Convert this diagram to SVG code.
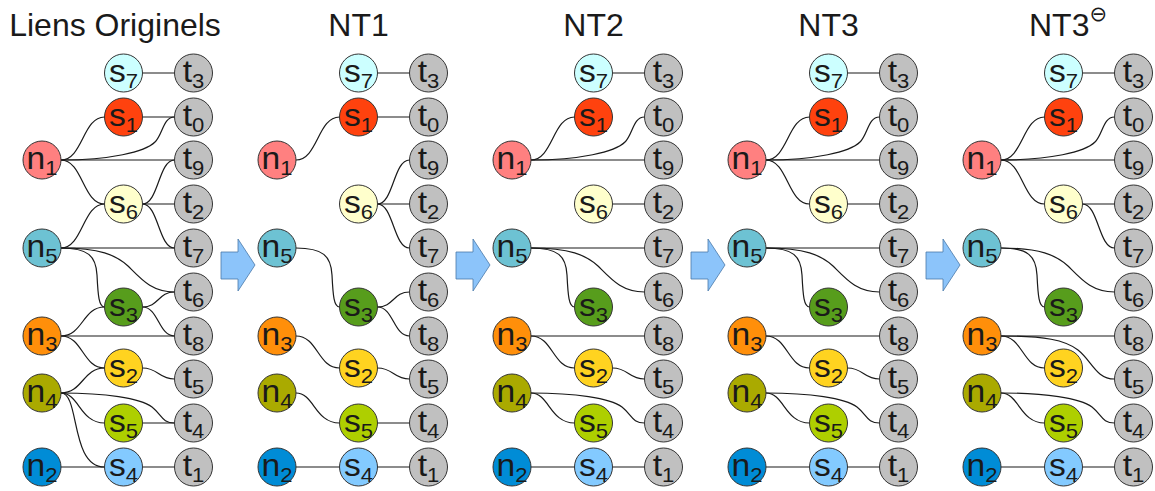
<svg xmlns="http://www.w3.org/2000/svg" width="1155" height="491" viewBox="0 0 1155 491">
<style>
.links path{fill:none;stroke:#1a1a1a;stroke-width:1.2}
.nd circle{stroke:#333;stroke-width:1}
.lbl{font-family:"Liberation Sans",Arial,sans-serif;font-size:32px;fill:#1a1a1a;text-anchor:middle}
.sub{font-size:21px}
.title{font-family:"Liberation Sans",Arial,sans-serif;font-size:32px;fill:#1a1a1a}
.arrow{fill:#8cc4fa;stroke:#4a78a8;stroke-width:0.8}
.f-n1{fill:#ff8080}.f-n5{fill:#6dc2d3}.f-n3{fill:#ff8f0a}.f-n4{fill:#aaaa00}.f-n2{fill:#008cd6}
.f-s7{fill:#ccffff}.f-s1{fill:#ff420e}.f-s6{fill:#ffffcc}.f-s3{fill:#579d1c}.f-s2{fill:#ffd320}.f-s5{fill:#aecf00}.f-s4{fill:#83caff}
.f-t{fill:#c0c0c0}
</style>
<defs>
<path id="arr" d="M221,252H238V239L255,265L238,291V279H221Z"/>
</defs>
<g id="titles">
<text class="title" x="115" y="36" text-anchor="middle">Liens Originels</text>
<text class="title" x="358.5" y="36" text-anchor="middle">NT1</text>
<text class="title" x="593.5" y="36" text-anchor="middle">NT2</text>
<text class="title" x="828.5" y="36" text-anchor="middle">NT3</text>
<text class="title" x="1029" y="36">NT3<tspan font-family="DejaVu Sans,sans-serif" font-size="21" dy="-15">⊖</tspan></text>
</g>
<g id="arrows">
<use href="#arr" class="arrow"/>
<use href="#arr" class="arrow" transform="translate(235,0)"/>
<use href="#arr" class="arrow" transform="translate(470,0)"/>
<use href="#arr" class="arrow" transform="translate(705,0)"/>
</g>

<g id="panel-orig">
<g id="orig-links" class="links">
<path d="M142.5,73H174.5"/>
<path d="M142.5,117H174.5"/>
<path d="M61,160C82.75,160 82.75,117 104.5,117"/>
<path d="M61,160C110,160 145,152 155,142C163,134 163,117 174.5,117"/>
<path d="M61,160H174.5"/>
<path d="M61,160C82.75,160 82.75,204 104.5,204"/>
<path d="M142.5,204C158.5,204 158.5,160 174.5,160"/>
<path d="M142.5,204H174.5"/>
<path d="M142.5,204C158.5,204 158.5,248 174.5,248"/>
<path d="M61,248C82.75,248 82.75,204 104.5,204"/>
<path d="M61,248H174.5"/>
<path d="M61,248C88,248 96,256 97,275C98,296 99,307 104.5,307"/>
<path d="M61,248C100,248 116,255 128,266C142,280 152,292 174.5,292"/>
<path d="M142.5,307C158.5,307 158.5,292 174.5,292"/>
<path d="M142.5,307C158.5,307 158.5,336 174.5,336"/>
<path d="M61,336C82.75,336 82.75,307 104.5,307"/>
<path d="M61,336H174.5"/>
<path d="M61,336C82.75,336 82.75,368 104.5,368"/>
<path d="M61,393C82.75,393 82.75,368 104.5,368"/>
<path d="M142.5,368C158.5,368 158.5,379 174.5,379"/>
<path d="M61,393C105,393 140,398 152,407C162,415 162,423 174.5,423"/>
<path d="M61,393C79,393 80,423 104.5,423"/>
<path d="M61,393C80,393 70,467 104.5,467"/>
<path d="M142.5,423H174.5"/>
<path d="M61,467H104.5"/>
<path d="M142.5,467H174.5"/>
</g>
<g id="orig-n1" class="nd" transform="translate(42,160)"><circle r="19" class="f-n1"/><text class="lbl" transform="scale(1.05,1)" y="9">n<tspan class="sub" dy="6">1</tspan></text></g>
<g id="orig-n5" class="nd" transform="translate(42,248)"><circle r="19" class="f-n5"/><text class="lbl" transform="scale(1.05,1)" y="9">n<tspan class="sub" dy="6">5</tspan></text></g>
<g id="orig-n3" class="nd" transform="translate(42,336)"><circle r="19" class="f-n3"/><text class="lbl" transform="scale(1.05,1)" y="9">n<tspan class="sub" dy="6">3</tspan></text></g>
<g id="orig-n4" class="nd" transform="translate(42,393)"><circle r="19" class="f-n4"/><text class="lbl" transform="scale(1.05,1)" y="9">n<tspan class="sub" dy="6">4</tspan></text></g>
<g id="orig-n2" class="nd" transform="translate(42,467)"><circle r="19" class="f-n2"/><text class="lbl" transform="scale(1.05,1)" y="9">n<tspan class="sub" dy="6">2</tspan></text></g>
<g id="orig-s7" class="nd" transform="translate(123.5,73)"><circle r="19" class="f-s7"/><text class="lbl" transform="scale(1.05,1)" y="9">s<tspan class="sub" dy="6">7</tspan></text></g>
<g id="orig-s1" class="nd" transform="translate(123.5,117)"><circle r="19" class="f-s1"/><text class="lbl" transform="scale(1.05,1)" y="9">s<tspan class="sub" dy="6">1</tspan></text></g>
<g id="orig-s6" class="nd" transform="translate(123.5,204)"><circle r="19" class="f-s6"/><text class="lbl" transform="scale(1.05,1)" y="9">s<tspan class="sub" dy="6">6</tspan></text></g>
<g id="orig-s3" class="nd" transform="translate(123.5,307)"><circle r="19" class="f-s3"/><text class="lbl" transform="scale(1.05,1)" y="9">s<tspan class="sub" dy="6">3</tspan></text></g>
<g id="orig-s2" class="nd" transform="translate(123.5,368)"><circle r="19" class="f-s2"/><text class="lbl" transform="scale(1.05,1)" y="9">s<tspan class="sub" dy="6">2</tspan></text></g>
<g id="orig-s5" class="nd" transform="translate(123.5,423)"><circle r="19" class="f-s5"/><text class="lbl" transform="scale(1.05,1)" y="9">s<tspan class="sub" dy="6">5</tspan></text></g>
<g id="orig-s4" class="nd" transform="translate(123.5,467)"><circle r="19" class="f-s4"/><text class="lbl" transform="scale(1.05,1)" y="9">s<tspan class="sub" dy="6">4</tspan></text></g>
<g id="orig-t3" class="nd" transform="translate(193.5,73)"><circle r="19" class="f-t"/><text class="lbl" transform="scale(1.05,1)" y="9">t<tspan class="sub" dy="6">3</tspan></text></g>
<g id="orig-t0" class="nd" transform="translate(193.5,117)"><circle r="19" class="f-t"/><text class="lbl" transform="scale(1.05,1)" y="9">t<tspan class="sub" dy="6">0</tspan></text></g>
<g id="orig-t9" class="nd" transform="translate(193.5,160)"><circle r="19" class="f-t"/><text class="lbl" transform="scale(1.05,1)" y="9">t<tspan class="sub" dy="6">9</tspan></text></g>
<g id="orig-t2" class="nd" transform="translate(193.5,204)"><circle r="19" class="f-t"/><text class="lbl" transform="scale(1.05,1)" y="9">t<tspan class="sub" dy="6">2</tspan></text></g>
<g id="orig-t7" class="nd" transform="translate(193.5,248)"><circle r="19" class="f-t"/><text class="lbl" transform="scale(1.05,1)" y="9">t<tspan class="sub" dy="6">7</tspan></text></g>
<g id="orig-t6" class="nd" transform="translate(193.5,292)"><circle r="19" class="f-t"/><text class="lbl" transform="scale(1.05,1)" y="9">t<tspan class="sub" dy="6">6</tspan></text></g>
<g id="orig-t8" class="nd" transform="translate(193.5,336)"><circle r="19" class="f-t"/><text class="lbl" transform="scale(1.05,1)" y="9">t<tspan class="sub" dy="6">8</tspan></text></g>
<g id="orig-t5" class="nd" transform="translate(193.5,379)"><circle r="19" class="f-t"/><text class="lbl" transform="scale(1.05,1)" y="9">t<tspan class="sub" dy="6">5</tspan></text></g>
<g id="orig-t4" class="nd" transform="translate(193.5,423)"><circle r="19" class="f-t"/><text class="lbl" transform="scale(1.05,1)" y="9">t<tspan class="sub" dy="6">4</tspan></text></g>
<g id="orig-t1" class="nd" transform="translate(193.5,467)"><circle r="19" class="f-t"/><text class="lbl" transform="scale(1.05,1)" y="9">t<tspan class="sub" dy="6">1</tspan></text></g>
</g>

<g id="panel-nt1" transform="translate(235,0)">
<g id="nt1-links" class="links">
<path d="M142.5,73H174.5"/>
<path d="M142.5,117H174.5"/>
<path d="M61,160C82.75,160 82.75,117 104.5,117"/>
<path d="M142.5,204C158.5,204 158.5,160 174.5,160"/>
<path d="M142.5,204H174.5"/>
<path d="M142.5,204C158.5,204 158.5,248 174.5,248"/>
<path d="M61,248C88,248 96,256 97,275C98,296 99,307 104.5,307"/>
<path d="M142.5,307C158.5,307 158.5,292 174.5,292"/>
<path d="M142.5,307C158.5,307 158.5,336 174.5,336"/>
<path d="M61,336C82.75,336 82.75,368 104.5,368"/>
<path d="M142.5,368C158.5,368 158.5,379 174.5,379"/>
<path d="M61,393C79,393 80,423 104.5,423"/>
<path d="M142.5,423H174.5"/>
<path d="M61,467H104.5"/>
<path d="M142.5,467H174.5"/>
</g>
<g id="nt1-n1" class="nd" transform="translate(42,160)"><circle r="19" class="f-n1"/><text class="lbl" transform="scale(1.05,1)" y="9">n<tspan class="sub" dy="6">1</tspan></text></g>
<g id="nt1-n5" class="nd" transform="translate(42,248)"><circle r="19" class="f-n5"/><text class="lbl" transform="scale(1.05,1)" y="9">n<tspan class="sub" dy="6">5</tspan></text></g>
<g id="nt1-n3" class="nd" transform="translate(42,336)"><circle r="19" class="f-n3"/><text class="lbl" transform="scale(1.05,1)" y="9">n<tspan class="sub" dy="6">3</tspan></text></g>
<g id="nt1-n4" class="nd" transform="translate(42,393)"><circle r="19" class="f-n4"/><text class="lbl" transform="scale(1.05,1)" y="9">n<tspan class="sub" dy="6">4</tspan></text></g>
<g id="nt1-n2" class="nd" transform="translate(42,467)"><circle r="19" class="f-n2"/><text class="lbl" transform="scale(1.05,1)" y="9">n<tspan class="sub" dy="6">2</tspan></text></g>
<g id="nt1-s7" class="nd" transform="translate(123.5,73)"><circle r="19" class="f-s7"/><text class="lbl" transform="scale(1.05,1)" y="9">s<tspan class="sub" dy="6">7</tspan></text></g>
<g id="nt1-s1" class="nd" transform="translate(123.5,117)"><circle r="19" class="f-s1"/><text class="lbl" transform="scale(1.05,1)" y="9">s<tspan class="sub" dy="6">1</tspan></text></g>
<g id="nt1-s6" class="nd" transform="translate(123.5,204)"><circle r="19" class="f-s6"/><text class="lbl" transform="scale(1.05,1)" y="9">s<tspan class="sub" dy="6">6</tspan></text></g>
<g id="nt1-s3" class="nd" transform="translate(123.5,307)"><circle r="19" class="f-s3"/><text class="lbl" transform="scale(1.05,1)" y="9">s<tspan class="sub" dy="6">3</tspan></text></g>
<g id="nt1-s2" class="nd" transform="translate(123.5,368)"><circle r="19" class="f-s2"/><text class="lbl" transform="scale(1.05,1)" y="9">s<tspan class="sub" dy="6">2</tspan></text></g>
<g id="nt1-s5" class="nd" transform="translate(123.5,423)"><circle r="19" class="f-s5"/><text class="lbl" transform="scale(1.05,1)" y="9">s<tspan class="sub" dy="6">5</tspan></text></g>
<g id="nt1-s4" class="nd" transform="translate(123.5,467)"><circle r="19" class="f-s4"/><text class="lbl" transform="scale(1.05,1)" y="9">s<tspan class="sub" dy="6">4</tspan></text></g>
<g id="nt1-t3" class="nd" transform="translate(193.5,73)"><circle r="19" class="f-t"/><text class="lbl" transform="scale(1.05,1)" y="9">t<tspan class="sub" dy="6">3</tspan></text></g>
<g id="nt1-t0" class="nd" transform="translate(193.5,117)"><circle r="19" class="f-t"/><text class="lbl" transform="scale(1.05,1)" y="9">t<tspan class="sub" dy="6">0</tspan></text></g>
<g id="nt1-t9" class="nd" transform="translate(193.5,160)"><circle r="19" class="f-t"/><text class="lbl" transform="scale(1.05,1)" y="9">t<tspan class="sub" dy="6">9</tspan></text></g>
<g id="nt1-t2" class="nd" transform="translate(193.5,204)"><circle r="19" class="f-t"/><text class="lbl" transform="scale(1.05,1)" y="9">t<tspan class="sub" dy="6">2</tspan></text></g>
<g id="nt1-t7" class="nd" transform="translate(193.5,248)"><circle r="19" class="f-t"/><text class="lbl" transform="scale(1.05,1)" y="9">t<tspan class="sub" dy="6">7</tspan></text></g>
<g id="nt1-t6" class="nd" transform="translate(193.5,292)"><circle r="19" class="f-t"/><text class="lbl" transform="scale(1.05,1)" y="9">t<tspan class="sub" dy="6">6</tspan></text></g>
<g id="nt1-t8" class="nd" transform="translate(193.5,336)"><circle r="19" class="f-t"/><text class="lbl" transform="scale(1.05,1)" y="9">t<tspan class="sub" dy="6">8</tspan></text></g>
<g id="nt1-t5" class="nd" transform="translate(193.5,379)"><circle r="19" class="f-t"/><text class="lbl" transform="scale(1.05,1)" y="9">t<tspan class="sub" dy="6">5</tspan></text></g>
<g id="nt1-t4" class="nd" transform="translate(193.5,423)"><circle r="19" class="f-t"/><text class="lbl" transform="scale(1.05,1)" y="9">t<tspan class="sub" dy="6">4</tspan></text></g>
<g id="nt1-t1" class="nd" transform="translate(193.5,467)"><circle r="19" class="f-t"/><text class="lbl" transform="scale(1.05,1)" y="9">t<tspan class="sub" dy="6">1</tspan></text></g>
</g>

<g id="panel-nt2" transform="translate(470,0)">
<g id="nt2-links" class="links">
<path d="M142.5,73H174.5"/>
<path d="M61,160C82.75,160 82.75,117 104.5,117"/>
<path d="M61,160C110,160 145,152 155,142C163,134 163,117 174.5,117"/>
<path d="M61,160H174.5"/>
<path d="M142.5,204H174.5"/>
<path d="M61,248H174.5"/>
<path d="M61,248C88,248 96,256 97,275C98,296 99,307 104.5,307"/>
<path d="M61,248C100,248 116,255 128,266C142,280 152,292 174.5,292"/>
<path d="M61,336H174.5"/>
<path d="M61,336C82.75,336 82.75,368 104.5,368"/>
<path d="M142.5,368C158.5,368 158.5,379 174.5,379"/>
<path d="M61,393C105,393 140,398 152,407C162,415 162,423 174.5,423"/>
<path d="M61,393C79,393 80,423 104.5,423"/>
<path d="M61,467H104.5"/>
<path d="M142.5,467H174.5"/>
</g>
<g id="nt2-n1" class="nd" transform="translate(42,160)"><circle r="19" class="f-n1"/><text class="lbl" transform="scale(1.05,1)" y="9">n<tspan class="sub" dy="6">1</tspan></text></g>
<g id="nt2-n5" class="nd" transform="translate(42,248)"><circle r="19" class="f-n5"/><text class="lbl" transform="scale(1.05,1)" y="9">n<tspan class="sub" dy="6">5</tspan></text></g>
<g id="nt2-n3" class="nd" transform="translate(42,336)"><circle r="19" class="f-n3"/><text class="lbl" transform="scale(1.05,1)" y="9">n<tspan class="sub" dy="6">3</tspan></text></g>
<g id="nt2-n4" class="nd" transform="translate(42,393)"><circle r="19" class="f-n4"/><text class="lbl" transform="scale(1.05,1)" y="9">n<tspan class="sub" dy="6">4</tspan></text></g>
<g id="nt2-n2" class="nd" transform="translate(42,467)"><circle r="19" class="f-n2"/><text class="lbl" transform="scale(1.05,1)" y="9">n<tspan class="sub" dy="6">2</tspan></text></g>
<g id="nt2-s7" class="nd" transform="translate(123.5,73)"><circle r="19" class="f-s7"/><text class="lbl" transform="scale(1.05,1)" y="9">s<tspan class="sub" dy="6">7</tspan></text></g>
<g id="nt2-s1" class="nd" transform="translate(123.5,117)"><circle r="19" class="f-s1"/><text class="lbl" transform="scale(1.05,1)" y="9">s<tspan class="sub" dy="6">1</tspan></text></g>
<g id="nt2-s6" class="nd" transform="translate(123.5,204)"><circle r="19" class="f-s6"/><text class="lbl" transform="scale(1.05,1)" y="9">s<tspan class="sub" dy="6">6</tspan></text></g>
<g id="nt2-s3" class="nd" transform="translate(123.5,307)"><circle r="19" class="f-s3"/><text class="lbl" transform="scale(1.05,1)" y="9">s<tspan class="sub" dy="6">3</tspan></text></g>
<g id="nt2-s2" class="nd" transform="translate(123.5,368)"><circle r="19" class="f-s2"/><text class="lbl" transform="scale(1.05,1)" y="9">s<tspan class="sub" dy="6">2</tspan></text></g>
<g id="nt2-s5" class="nd" transform="translate(123.5,423)"><circle r="19" class="f-s5"/><text class="lbl" transform="scale(1.05,1)" y="9">s<tspan class="sub" dy="6">5</tspan></text></g>
<g id="nt2-s4" class="nd" transform="translate(123.5,467)"><circle r="19" class="f-s4"/><text class="lbl" transform="scale(1.05,1)" y="9">s<tspan class="sub" dy="6">4</tspan></text></g>
<g id="nt2-t3" class="nd" transform="translate(193.5,73)"><circle r="19" class="f-t"/><text class="lbl" transform="scale(1.05,1)" y="9">t<tspan class="sub" dy="6">3</tspan></text></g>
<g id="nt2-t0" class="nd" transform="translate(193.5,117)"><circle r="19" class="f-t"/><text class="lbl" transform="scale(1.05,1)" y="9">t<tspan class="sub" dy="6">0</tspan></text></g>
<g id="nt2-t9" class="nd" transform="translate(193.5,160)"><circle r="19" class="f-t"/><text class="lbl" transform="scale(1.05,1)" y="9">t<tspan class="sub" dy="6">9</tspan></text></g>
<g id="nt2-t2" class="nd" transform="translate(193.5,204)"><circle r="19" class="f-t"/><text class="lbl" transform="scale(1.05,1)" y="9">t<tspan class="sub" dy="6">2</tspan></text></g>
<g id="nt2-t7" class="nd" transform="translate(193.5,248)"><circle r="19" class="f-t"/><text class="lbl" transform="scale(1.05,1)" y="9">t<tspan class="sub" dy="6">7</tspan></text></g>
<g id="nt2-t6" class="nd" transform="translate(193.5,292)"><circle r="19" class="f-t"/><text class="lbl" transform="scale(1.05,1)" y="9">t<tspan class="sub" dy="6">6</tspan></text></g>
<g id="nt2-t8" class="nd" transform="translate(193.5,336)"><circle r="19" class="f-t"/><text class="lbl" transform="scale(1.05,1)" y="9">t<tspan class="sub" dy="6">8</tspan></text></g>
<g id="nt2-t5" class="nd" transform="translate(193.5,379)"><circle r="19" class="f-t"/><text class="lbl" transform="scale(1.05,1)" y="9">t<tspan class="sub" dy="6">5</tspan></text></g>
<g id="nt2-t4" class="nd" transform="translate(193.5,423)"><circle r="19" class="f-t"/><text class="lbl" transform="scale(1.05,1)" y="9">t<tspan class="sub" dy="6">4</tspan></text></g>
<g id="nt2-t1" class="nd" transform="translate(193.5,467)"><circle r="19" class="f-t"/><text class="lbl" transform="scale(1.05,1)" y="9">t<tspan class="sub" dy="6">1</tspan></text></g>
</g>

<g id="panel-nt3" transform="translate(705,0)">
<g id="nt3-links" class="links">
<path d="M142.5,73H174.5"/>
<path d="M61,160C82.75,160 82.75,117 104.5,117"/>
<path d="M61,160C110,160 145,152 155,142C163,134 163,117 174.5,117"/>
<path d="M61,160H174.5"/>
<path d="M61,160C82.75,160 82.75,204 104.5,204"/>
<path d="M142.5,204H174.5"/>
<path d="M61,248H174.5"/>
<path d="M61,248C88,248 96,256 97,275C98,296 99,307 104.5,307"/>
<path d="M61,248C100,248 116,255 128,266C142,280 152,292 174.5,292"/>
<path d="M61,336H174.5"/>
<path d="M61,336C82.75,336 82.75,368 104.5,368"/>
<path d="M142.5,368C158.5,368 158.5,379 174.5,379"/>
<path d="M61,393C105,393 140,398 152,407C162,415 162,423 174.5,423"/>
<path d="M61,393C79,393 80,423 104.5,423"/>
<path d="M61,467H104.5"/>
<path d="M142.5,467H174.5"/>
</g>
<g id="nt3-n1" class="nd" transform="translate(42,160)"><circle r="19" class="f-n1"/><text class="lbl" transform="scale(1.05,1)" y="9">n<tspan class="sub" dy="6">1</tspan></text></g>
<g id="nt3-n5" class="nd" transform="translate(42,248)"><circle r="19" class="f-n5"/><text class="lbl" transform="scale(1.05,1)" y="9">n<tspan class="sub" dy="6">5</tspan></text></g>
<g id="nt3-n3" class="nd" transform="translate(42,336)"><circle r="19" class="f-n3"/><text class="lbl" transform="scale(1.05,1)" y="9">n<tspan class="sub" dy="6">3</tspan></text></g>
<g id="nt3-n4" class="nd" transform="translate(42,393)"><circle r="19" class="f-n4"/><text class="lbl" transform="scale(1.05,1)" y="9">n<tspan class="sub" dy="6">4</tspan></text></g>
<g id="nt3-n2" class="nd" transform="translate(42,467)"><circle r="19" class="f-n2"/><text class="lbl" transform="scale(1.05,1)" y="9">n<tspan class="sub" dy="6">2</tspan></text></g>
<g id="nt3-s7" class="nd" transform="translate(123.5,73)"><circle r="19" class="f-s7"/><text class="lbl" transform="scale(1.05,1)" y="9">s<tspan class="sub" dy="6">7</tspan></text></g>
<g id="nt3-s1" class="nd" transform="translate(123.5,117)"><circle r="19" class="f-s1"/><text class="lbl" transform="scale(1.05,1)" y="9">s<tspan class="sub" dy="6">1</tspan></text></g>
<g id="nt3-s6" class="nd" transform="translate(123.5,204)"><circle r="19" class="f-s6"/><text class="lbl" transform="scale(1.05,1)" y="9">s<tspan class="sub" dy="6">6</tspan></text></g>
<g id="nt3-s3" class="nd" transform="translate(123.5,307)"><circle r="19" class="f-s3"/><text class="lbl" transform="scale(1.05,1)" y="9">s<tspan class="sub" dy="6">3</tspan></text></g>
<g id="nt3-s2" class="nd" transform="translate(123.5,368)"><circle r="19" class="f-s2"/><text class="lbl" transform="scale(1.05,1)" y="9">s<tspan class="sub" dy="6">2</tspan></text></g>
<g id="nt3-s5" class="nd" transform="translate(123.5,423)"><circle r="19" class="f-s5"/><text class="lbl" transform="scale(1.05,1)" y="9">s<tspan class="sub" dy="6">5</tspan></text></g>
<g id="nt3-s4" class="nd" transform="translate(123.5,467)"><circle r="19" class="f-s4"/><text class="lbl" transform="scale(1.05,1)" y="9">s<tspan class="sub" dy="6">4</tspan></text></g>
<g id="nt3-t3" class="nd" transform="translate(193.5,73)"><circle r="19" class="f-t"/><text class="lbl" transform="scale(1.05,1)" y="9">t<tspan class="sub" dy="6">3</tspan></text></g>
<g id="nt3-t0" class="nd" transform="translate(193.5,117)"><circle r="19" class="f-t"/><text class="lbl" transform="scale(1.05,1)" y="9">t<tspan class="sub" dy="6">0</tspan></text></g>
<g id="nt3-t9" class="nd" transform="translate(193.5,160)"><circle r="19" class="f-t"/><text class="lbl" transform="scale(1.05,1)" y="9">t<tspan class="sub" dy="6">9</tspan></text></g>
<g id="nt3-t2" class="nd" transform="translate(193.5,204)"><circle r="19" class="f-t"/><text class="lbl" transform="scale(1.05,1)" y="9">t<tspan class="sub" dy="6">2</tspan></text></g>
<g id="nt3-t7" class="nd" transform="translate(193.5,248)"><circle r="19" class="f-t"/><text class="lbl" transform="scale(1.05,1)" y="9">t<tspan class="sub" dy="6">7</tspan></text></g>
<g id="nt3-t6" class="nd" transform="translate(193.5,292)"><circle r="19" class="f-t"/><text class="lbl" transform="scale(1.05,1)" y="9">t<tspan class="sub" dy="6">6</tspan></text></g>
<g id="nt3-t8" class="nd" transform="translate(193.5,336)"><circle r="19" class="f-t"/><text class="lbl" transform="scale(1.05,1)" y="9">t<tspan class="sub" dy="6">8</tspan></text></g>
<g id="nt3-t5" class="nd" transform="translate(193.5,379)"><circle r="19" class="f-t"/><text class="lbl" transform="scale(1.05,1)" y="9">t<tspan class="sub" dy="6">5</tspan></text></g>
<g id="nt3-t4" class="nd" transform="translate(193.5,423)"><circle r="19" class="f-t"/><text class="lbl" transform="scale(1.05,1)" y="9">t<tspan class="sub" dy="6">4</tspan></text></g>
<g id="nt3-t1" class="nd" transform="translate(193.5,467)"><circle r="19" class="f-t"/><text class="lbl" transform="scale(1.05,1)" y="9">t<tspan class="sub" dy="6">1</tspan></text></g>
</g>

<g id="panel-nt3m" transform="translate(940,0)">
<g id="nt3m-links" class="links">
<path d="M142.5,73H174.5"/>
<path d="M61,160C82.75,160 82.75,117 104.5,117"/>
<path d="M61,160C110,160 145,152 155,142C163,134 163,117 174.5,117"/>
<path d="M61,160H174.5"/>
<path d="M61,160C82.75,160 82.75,204 104.5,204"/>
<path d="M142.5,204H174.5"/>
<path d="M142.5,204C158.5,204 158.5,248 174.5,248"/>
<path d="M61,248C88,248 96,256 97,275C98,296 99,307 104.5,307"/>
<path d="M61,248C100,248 116,255 128,266C142,280 152,292 174.5,292"/>
<path d="M61,336H174.5"/>
<path d="M61,336C82.75,336 82.75,368 104.5,368"/>
<path d="M61,336C105,336 125,340 138,350C152,361 156,379 174.5,379"/>
<path d="M61,393C105,393 140,398 152,407C162,415 162,423 174.5,423"/>
<path d="M61,393C79,393 80,423 104.5,423"/>
<path d="M61,467H104.5"/>
<path d="M142.5,467H174.5"/>
</g>
<g id="nt3m-n1" class="nd" transform="translate(42,160)"><circle r="19" class="f-n1"/><text class="lbl" transform="scale(1.05,1)" y="9">n<tspan class="sub" dy="6">1</tspan></text></g>
<g id="nt3m-n5" class="nd" transform="translate(42,248)"><circle r="19" class="f-n5"/><text class="lbl" transform="scale(1.05,1)" y="9">n<tspan class="sub" dy="6">5</tspan></text></g>
<g id="nt3m-n3" class="nd" transform="translate(42,336)"><circle r="19" class="f-n3"/><text class="lbl" transform="scale(1.05,1)" y="9">n<tspan class="sub" dy="6">3</tspan></text></g>
<g id="nt3m-n4" class="nd" transform="translate(42,393)"><circle r="19" class="f-n4"/><text class="lbl" transform="scale(1.05,1)" y="9">n<tspan class="sub" dy="6">4</tspan></text></g>
<g id="nt3m-n2" class="nd" transform="translate(42,467)"><circle r="19" class="f-n2"/><text class="lbl" transform="scale(1.05,1)" y="9">n<tspan class="sub" dy="6">2</tspan></text></g>
<g id="nt3m-s7" class="nd" transform="translate(123.5,73)"><circle r="19" class="f-s7"/><text class="lbl" transform="scale(1.05,1)" y="9">s<tspan class="sub" dy="6">7</tspan></text></g>
<g id="nt3m-s1" class="nd" transform="translate(123.5,117)"><circle r="19" class="f-s1"/><text class="lbl" transform="scale(1.05,1)" y="9">s<tspan class="sub" dy="6">1</tspan></text></g>
<g id="nt3m-s6" class="nd" transform="translate(123.5,204)"><circle r="19" class="f-s6"/><text class="lbl" transform="scale(1.05,1)" y="9">s<tspan class="sub" dy="6">6</tspan></text></g>
<g id="nt3m-s3" class="nd" transform="translate(123.5,307)"><circle r="19" class="f-s3"/><text class="lbl" transform="scale(1.05,1)" y="9">s<tspan class="sub" dy="6">3</tspan></text></g>
<g id="nt3m-s2" class="nd" transform="translate(123.5,368)"><circle r="19" class="f-s2"/><text class="lbl" transform="scale(1.05,1)" y="9">s<tspan class="sub" dy="6">2</tspan></text></g>
<g id="nt3m-s5" class="nd" transform="translate(123.5,423)"><circle r="19" class="f-s5"/><text class="lbl" transform="scale(1.05,1)" y="9">s<tspan class="sub" dy="6">5</tspan></text></g>
<g id="nt3m-s4" class="nd" transform="translate(123.5,467)"><circle r="19" class="f-s4"/><text class="lbl" transform="scale(1.05,1)" y="9">s<tspan class="sub" dy="6">4</tspan></text></g>
<g id="nt3m-t3" class="nd" transform="translate(193.5,73)"><circle r="19" class="f-t"/><text class="lbl" transform="scale(1.05,1)" y="9">t<tspan class="sub" dy="6">3</tspan></text></g>
<g id="nt3m-t0" class="nd" transform="translate(193.5,117)"><circle r="19" class="f-t"/><text class="lbl" transform="scale(1.05,1)" y="9">t<tspan class="sub" dy="6">0</tspan></text></g>
<g id="nt3m-t9" class="nd" transform="translate(193.5,160)"><circle r="19" class="f-t"/><text class="lbl" transform="scale(1.05,1)" y="9">t<tspan class="sub" dy="6">9</tspan></text></g>
<g id="nt3m-t2" class="nd" transform="translate(193.5,204)"><circle r="19" class="f-t"/><text class="lbl" transform="scale(1.05,1)" y="9">t<tspan class="sub" dy="6">2</tspan></text></g>
<g id="nt3m-t7" class="nd" transform="translate(193.5,248)"><circle r="19" class="f-t"/><text class="lbl" transform="scale(1.05,1)" y="9">t<tspan class="sub" dy="6">7</tspan></text></g>
<g id="nt3m-t6" class="nd" transform="translate(193.5,292)"><circle r="19" class="f-t"/><text class="lbl" transform="scale(1.05,1)" y="9">t<tspan class="sub" dy="6">6</tspan></text></g>
<g id="nt3m-t8" class="nd" transform="translate(193.5,336)"><circle r="19" class="f-t"/><text class="lbl" transform="scale(1.05,1)" y="9">t<tspan class="sub" dy="6">8</tspan></text></g>
<g id="nt3m-t5" class="nd" transform="translate(193.5,379)"><circle r="19" class="f-t"/><text class="lbl" transform="scale(1.05,1)" y="9">t<tspan class="sub" dy="6">5</tspan></text></g>
<g id="nt3m-t4" class="nd" transform="translate(193.5,423)"><circle r="19" class="f-t"/><text class="lbl" transform="scale(1.05,1)" y="9">t<tspan class="sub" dy="6">4</tspan></text></g>
<g id="nt3m-t1" class="nd" transform="translate(193.5,467)"><circle r="19" class="f-t"/><text class="lbl" transform="scale(1.05,1)" y="9">t<tspan class="sub" dy="6">1</tspan></text></g>
</g>
</svg>
